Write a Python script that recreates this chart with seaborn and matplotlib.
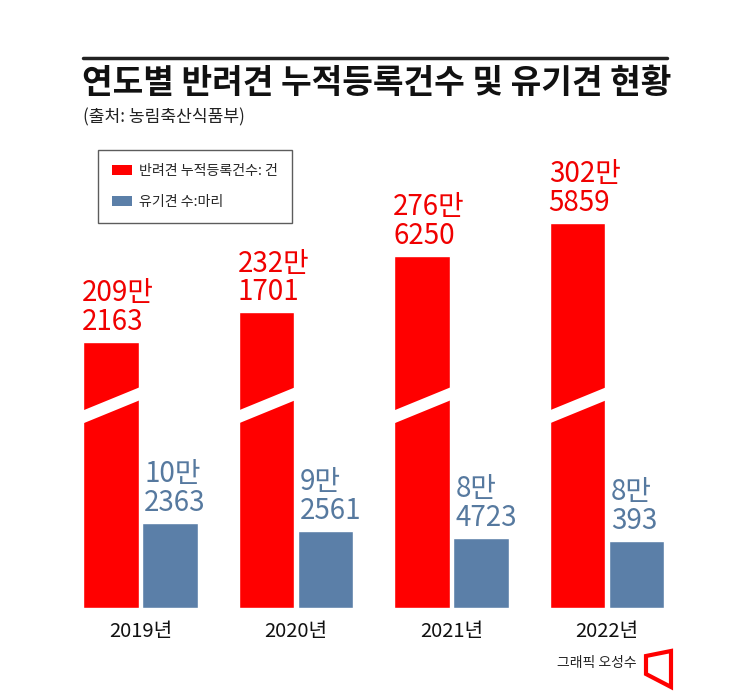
import numpy as np
import pandas as pd
import seaborn as sns
import matplotlib.pyplot as plt
from matplotlib.patches import Patch, Polygon
from matplotlib.lines import Line2D

# data (from 농림축산식품부)
years = ["2019년", "2020년", "2021년", "2022년"]
registered = [2092163, 2321701, 2766250, 3025859]   # 반려견 누적등록건수 (건)
abandoned = [102363, 92561, 84723, 80393]           # 유기견 수 (마리)
series_names = ["반려견 누적등록건수: 건", "유기견 수:마리"]

red = "#ff0000"
blue = "#5b7fa8"
palette = {series_names[0]: red, series_names[1]: blue}

df = pd.DataFrame({
    "year": years * 2,
    "series": [series_names[0]] * len(years) + [series_names[1]] * len(years),
    "value": registered + abandoned,
})

sns.set_style("white")
plt.rcParams["font.family"] = ["Noto Sans CJK KR", "DejaVu Sans"]

W, H = 745, 693
fig = plt.figure(figsize=(W / 100, H / 100), dpi=100)
ax = fig.add_axes([62.75 / W, 85 / H, 622 / W, 458 / H])
ax2 = ax.twinx()

for a, name in ((ax, series_names[0]), (ax2, series_names[1])):
    sns.barplot(data=df[df.series == name], x="year", y="value", hue="series",
                hue_order=series_names, order=years, palette=palette,
                width=0.76, gap=0.06, dodge=True, saturation=1,
                errorbar=None, legend=False, ax=a)

# two different scales, red one is "broken"
ax.set_ylim(0, 458 / 1.2728e-4)
ax2.set_ylim(0, 458 / 8.30e-4)

for a in (ax, ax2):
    a.set_xlabel("")
    a.set_ylabel("")
    a.set_yticks([])
    for s in a.spines.values():
        s.set_visible(False)
ax.tick_params(axis="x", length=0, pad=9, labelsize=14.5, labelcolor="#111111")


def add_labels(a, color, dx):
    for p in a.patches:
        v = int(round(p.get_height()))
        a.annotate(f"{v // 10000}만\n{v % 10000}", (p.get_x(), p.get_height()),
                   xytext=(dx, 5), textcoords="offset pixels", ha="left",
                   va="bottom", color=color, fontsize=20, fontweight="medium",
                   linespacing=0.95)


add_labels(ax, "#f00000", -1)
add_labels(ax2, "#56799f", 2)

# white slanted break across the red bars
tr = ax.get_xaxis_transform()
for p in ax.patches:
    x0 = p.get_x() - 0.01
    x1 = p.get_x() + p.get_width() + 0.01
    ax.add_patch(Polygon([(x0, 0.4017), (x0, 0.4301), (x1, 0.4825), (x1, 0.4541)],
                         closed=True, facecolor="white", edgecolor="none",
                         transform=tr, zorder=5))

# title block
fig.add_artist(Line2D([83 / W, 667 / W], [1 - 58 / H] * 2, lw=2.5, color="#222222"))
fig.text(82 / W, 1 - 84 / H, "연도별 반려견 누적등록건수 및 유기견 현황", fontsize=24,
         fontweight="bold", va="center", ha="left", color="#111111")
fig.text(83 / W, 1 - 117 / H, "(출처: 농림축산식품부)", fontsize=12.3,
         va="center", ha="left", color="#222222")

# legend
handles = [Patch(facecolor=red, edgecolor="none"), Patch(facecolor=blue, edgecolor="none")]
leg = fig.legend(handles, series_names, loc="upper left",
                 bbox_to_anchor=(98 / W, 1 - 150 / H), fontsize=10.1,
                 frameon=True, fancybox=False, edgecolor="#333333",
                 borderaxespad=0, handlelength=1.4, handleheight=0.75,
                 handletextpad=0.5, labelspacing=1.2, borderpad=1.0)
leg.get_frame().set_linewidth(1.0)

# credit
fig.text(637 / W, 1 - 663 / H, "그래픽 오성수", fontsize=10, ha="right",
         va="center", color="#222222")
logo = [(646, 656), (671, 651), (671, 687), (646, 674)]
fig.add_artist(Polygon([(x / W, 1 - y / H) for x, y in logo], closed=True,
                       fill=False, edgecolor=red, lw=3, transform=fig.transFigure))

fig.savefig("out.png", dpi=100)
